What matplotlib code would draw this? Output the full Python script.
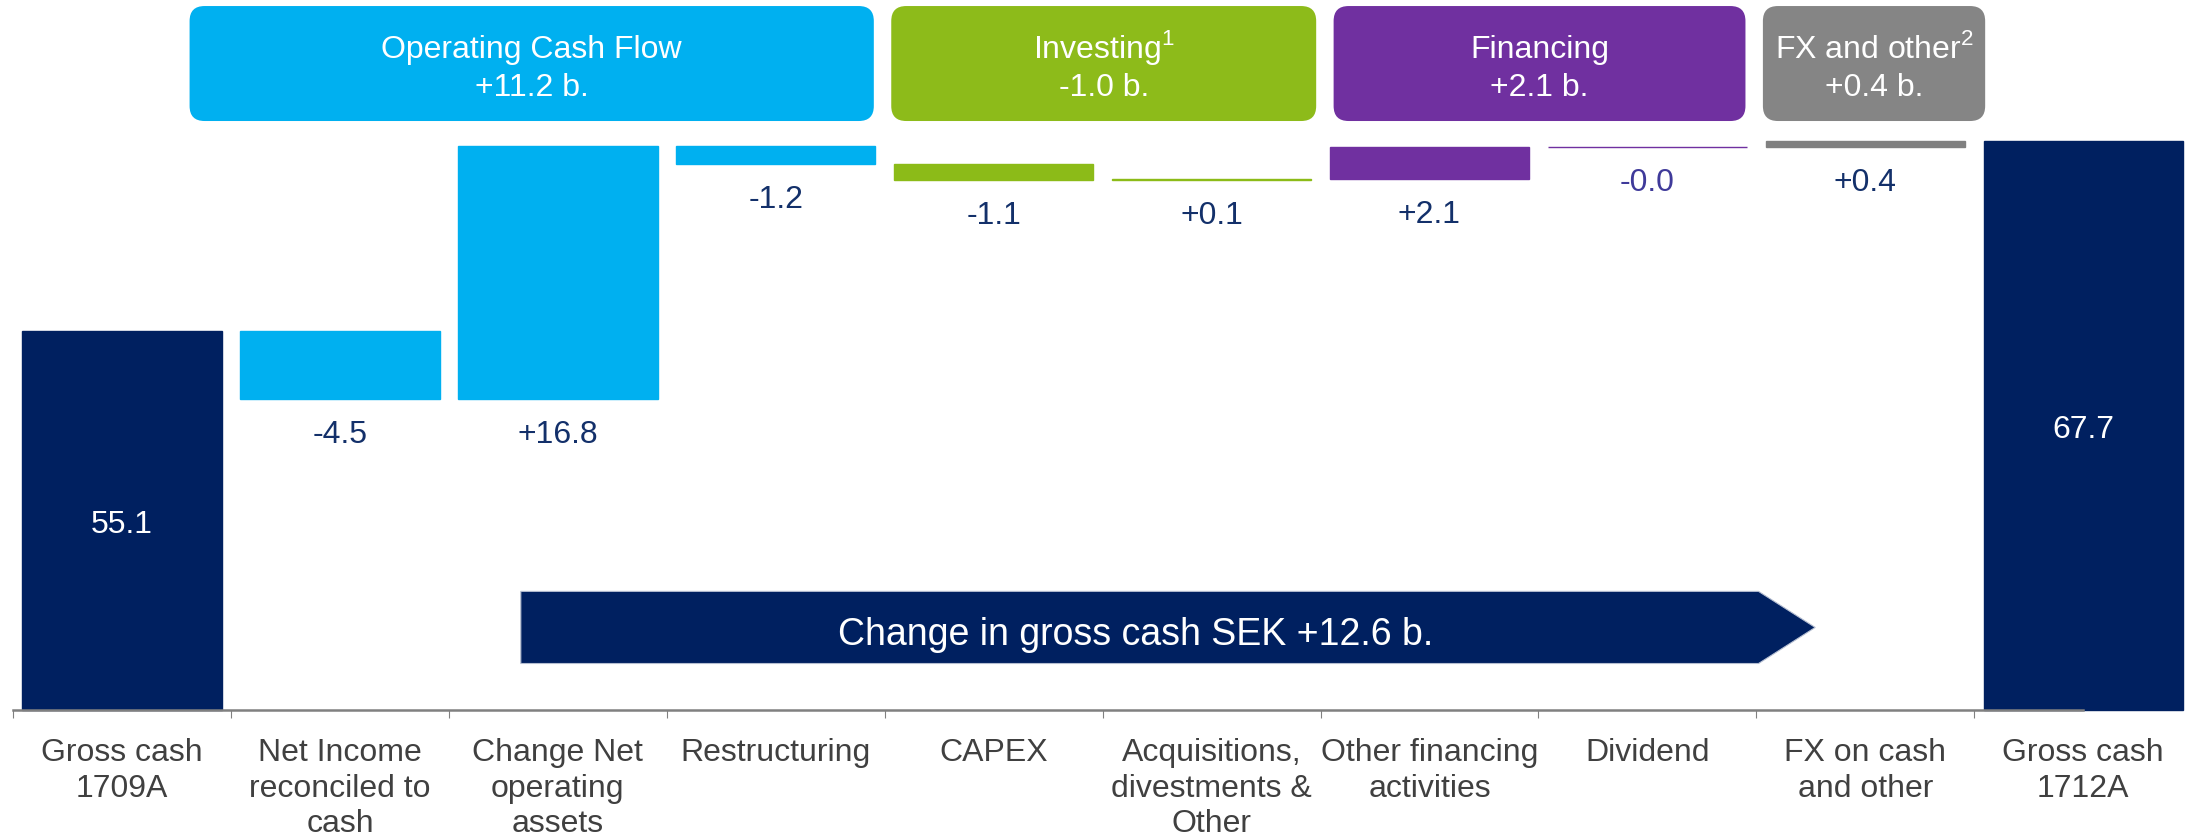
import matplotlib
matplotlib.use("Agg")
import matplotlib.pyplot as plt
from matplotlib.patches import FancyBboxPatch, Polygon
import numpy as np

plt.rcParams['font.family'] = ['Liberation Sans', 'DejaVu Sans']
plt.rcParams['mathtext.fontset'] = 'custom'
plt.rcParams['mathtext.rm'] = 'Liberation Sans'

# data (SEK b.)
categories = ['Gross cash\n1709A', 'Net Income\nreconciled to\ncash', 'Change Net\noperating\nassets',
              'Restructuring', 'CAPEX', 'Acquisitions,\ndivestments &\nOther',
              'Other financing\nactivities', 'Dividend', 'FX on cash\nand other', 'Gross cash\n1712A']
start_cash = 55.1
end_cash = 67.7
changes = [-4.5, 16.8, -1.2, -1.1, 0.1, 2.1, -0.02, 0.4]
groups = ['Operating Cash Flow', 'Investing$^{\\mathrm{1}}$', 'Financing', 'FX and other$^{\\mathrm{2}}$']
group_totals = [11.2, -1.0, 2.1, 0.4]
total_change = 12.6

navy = '#002060'
lblue = '#00B0F0'
green = '#8CBB18'
purple = '#7030A0'
grey = '#808080'
bar_colors = [navy, lblue, lblue, lblue, green, green, purple, purple, grey, navy]
group_colors = [lblue, '#8DBB1A', purple, '#858585']
group_spans = [(0.31, 3.45), (3.53, 5.48), (5.56, 7.45), (7.53, 8.55)]

base = 30.0
W, H = 2190, 839
xlim = (-0.56, 9.49)
ylim = (21.45, 77.05)

fig = plt.figure(figsize=(W / 100, H / 100), dpi=100)
ax = fig.add_axes([0, 0, 1, 1])
ax.set_xlim(*xlim)
ax.set_ylim(*ylim)
sx = W / (xlim[1] - xlim[0])   # px per x unit
sy = H / (ylim[1] - ylim[0])   # px per y unit

# waterfall geometry
x = np.arange(len(categories))
bottoms = [base]
heights = [start_cash - base]
level = start_cash
for d in changes:
    bottoms.append(min(level, level + d))
    heights.append(abs(d))
    level += d
bottoms.append(base)
heights.append(end_cash - base)

ax.bar(x, heights, bottom=bottoms, width=0.915, color=bar_colors,
       edgecolor=bar_colors, linewidth=1, zorder=2)

# value labels
nudge = 4 / sy
ax.text(0, (start_cash + base) / 2 - nudge, f'{start_cash:.1f}', color='white',
        fontsize=23, ha='center', va='center', zorder=3)
ax.text(x[-1], (end_cash + base) / 2 - nudge, f'{end_cash:.1f}', color='white',
        fontsize=23, ha='center', va='center', zorder=3)
off = 36 / sy
for i, d in enumerate(changes, start=1):
    col = '#3F3A9A' if i == 7 else '#13306A'
    ax.text(i, bottoms[i] - off, f'{d:+.1f}', color=col, fontsize=23,
            ha='center', va='center', zorder=3)

# group header boxes
box_lo, box_hi = 69.03, 76.65
for name, tot, col, (x0, x1) in zip(groups, group_totals, group_colors, group_spans):
    p = FancyBboxPatch((x0, box_lo), x1 - x0, box_hi - box_lo,
                       boxstyle=f'round,pad=0,rounding_size={15 / sx}',
                       mutation_aspect=sx / sy, facecolor=col, edgecolor='none', zorder=2)
    ax.add_patch(p)
    xc = (x0 + x1) / 2
    ax.text(xc, box_hi - 52 / sy, name, color='white', fontsize=23,
            ha='center', va='baseline', zorder=3)
    ax.text(xc, box_hi - 90 / sy, f'{tot:+.1f} b.', color='white', fontsize=23,
            ha='center', va='baseline', zorder=3)

# total change arrow
arr = Polygon([(1.83, 33.08), (7.51, 33.08), (7.77, 35.47), (7.51, 37.86), (1.83, 37.86)],
              closed=True, facecolor=navy, edgecolor='#b4bdd0', linewidth=0.8, zorder=2)
ax.add_patch(arr)
ax.text(4.65, 34.95, f'Change in gross cash SEK {total_change:+.1f} b.', color='white',
        fontsize=27, ha='center', va='center', zorder=3)

# axis
for s in ['top', 'left', 'right']:
    ax.spines[s].set_visible(False)
ax.spines['bottom'].set_position(('data', base))
ax.spines['bottom'].set_bounds(-0.5, 9.0)
ax.spines['bottom'].set_color(grey)
ax.spines['bottom'].set_linewidth(1.8)
ax.set_yticks([])
ax.set_xticks(np.arange(-0.5, 9.0, 1.0))
ax.set_xticks(x, categories, minor=True)
ax.tick_params(axis='x', which='major', length=6, width=0.8, color=grey, labelbottom=False)
ax.tick_params(axis='x', which='minor', length=0, pad=20, labelsize=23, labelcolor='#404040')
for lab in ax.get_xticklabels(minor=True):
    lab.set_linespacing(1.25)

fig.savefig('out.png', dpi=100)
